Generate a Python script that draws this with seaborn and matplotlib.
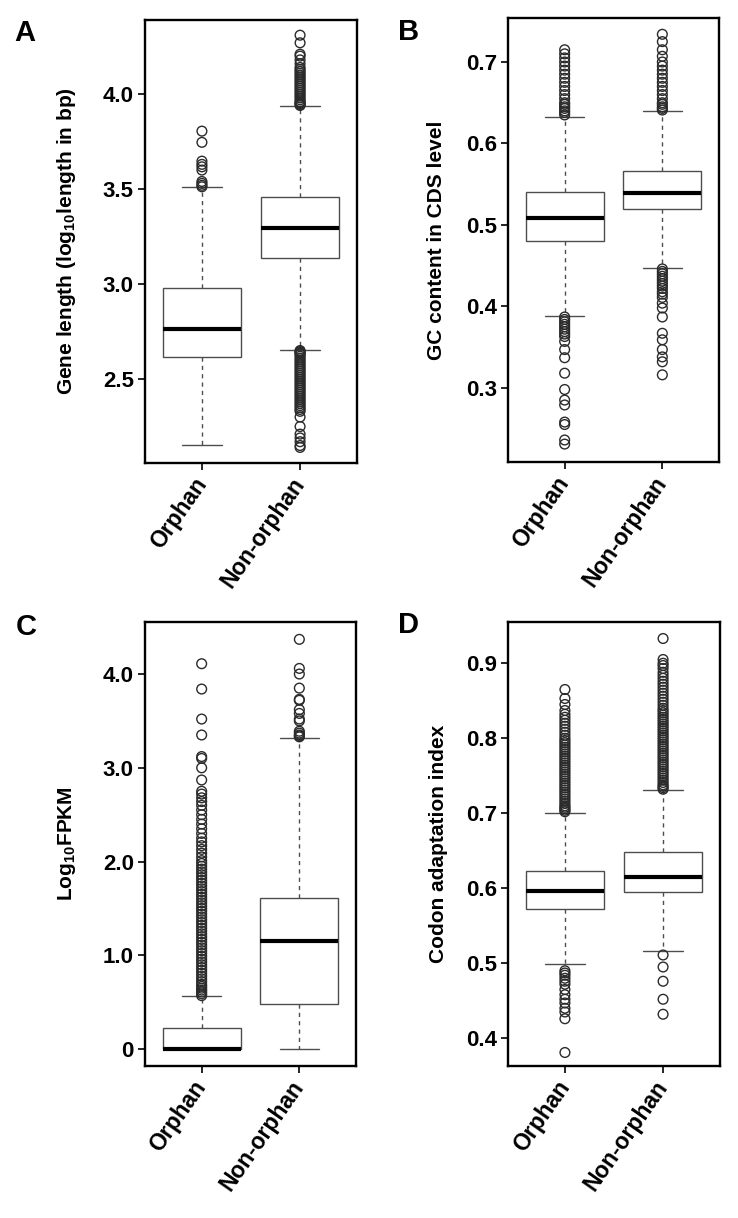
import matplotlib
matplotlib.use("Agg")
import matplotlib.pyplot as plt
import seaborn as sns
import pandas as pd

groups = ["Orphan", "Non-orphan"]

# A: gene length (log10 bp)
a_q1 = [2.616, 3.137]
a_med = [2.763, 3.296]
a_q3 = [2.980, 3.458]
a_lo = [2.153, 2.653]
a_hi = [3.510, 3.937]
a_out_orphan = [3.512, 3.52, 3.53, 3.54, 3.60, 3.617, 3.63, 3.647, 3.746, 3.805]
a_out_non = [3.94, 3.945, 3.95, 3.955, 3.96, 3.97, 3.98, 3.99, 4.00, 4.01, 4.02,
             4.03, 4.04, 4.05, 4.06, 4.07, 4.08, 4.09, 4.10, 4.11, 4.12, 4.13,
             4.14, 4.16, 4.18, 4.20, 4.21, 4.27, 4.31,
             2.65, 2.645, 2.64, 2.635, 2.63, 2.62, 2.61, 2.60, 2.59, 2.58, 2.57,
             2.56, 2.55, 2.54, 2.53, 2.52, 2.51, 2.50, 2.49, 2.48, 2.47, 2.46,
             2.45, 2.44, 2.43, 2.42, 2.41, 2.40, 2.39, 2.38, 2.37, 2.36, 2.35,
             2.34, 2.33, 2.30, 2.25, 2.21, 2.19, 2.17, 2.15, 2.14]

# B: GC content in CDS
b_q1 = [0.480, 0.520]
b_med = [0.509, 0.539]
b_q3 = [0.540, 0.566]
b_lo = [0.388, 0.447]
b_hi = [0.633, 0.640]
b_out_orphan = [0.635, 0.638, 0.640, 0.643, 0.645, 0.648, 0.650, 0.655, 0.660,
                0.665, 0.670, 0.675, 0.680, 0.685, 0.690, 0.695, 0.700, 0.705,
                0.710, 0.715,
                0.387, 0.384, 0.381, 0.378, 0.375, 0.372, 0.369, 0.366, 0.363,
                0.357, 0.347, 0.337, 0.318, 0.298, 0.285, 0.279, 0.258, 0.255,
                0.236, 0.231]
b_out_non = [0.641, 0.643, 0.645, 0.648, 0.650, 0.655, 0.660, 0.665, 0.670,
             0.675, 0.680, 0.685, 0.690, 0.695, 0.700, 0.707, 0.715, 0.725,
             0.734,
             0.446, 0.443, 0.440, 0.437, 0.434, 0.431, 0.428, 0.425, 0.422,
             0.418, 0.415, 0.411, 0.404, 0.398, 0.387, 0.367, 0.359, 0.347,
             0.338, 0.332, 0.316]

# C: log10 FPKM
c_q1 = [0.0, 0.48]
c_med = [0.0, 1.15]
c_q3 = [0.224, 1.61]
c_lo = [0.0, 0.0]
c_hi = [0.565, 3.32]
c_out_orphan = [0.57, 0.59, 0.61, 0.63, 0.65, 0.67, 0.69, 0.72, 0.75, 0.78,
                0.81, 0.84, 0.87, 0.90, 0.93, 0.96, 0.99, 1.02, 1.05, 1.08,
                1.11, 1.14, 1.17, 1.20, 1.23, 1.26, 1.29, 1.32, 1.35, 1.38,
                1.41, 1.44, 1.47, 1.50, 1.53, 1.56, 1.59, 1.62, 1.65, 1.68,
                1.71, 1.74, 1.77, 1.80, 1.83, 1.86, 1.89, 1.92, 1.95, 1.98,
                2.01, 2.05, 2.09, 2.13, 2.17, 2.21, 2.25, 2.30, 2.35, 2.40,
                2.45, 2.50, 2.55, 2.60, 2.64, 2.68, 2.72, 2.75, 2.87, 3.00,
                3.10, 3.12, 3.35, 3.52, 3.84, 4.11]
c_out_non = [3.33, 3.34, 3.35, 3.37, 3.39, 3.50, 3.52, 3.58, 3.62, 3.72, 3.73,
             3.85, 4.00, 4.06, 4.37]

# D: codon adaptation index
d_q1 = [0.572, 0.595]
d_med = [0.596, 0.615]
d_q3 = [0.623, 0.648]
d_lo = [0.499, 0.516]
d_hi = [0.701, 0.731]
d_out_orphan = [0.702, 0.704, 0.706, 0.708, 0.710, 0.713, 0.716, 0.719, 0.722,
                0.725, 0.728, 0.731, 0.734, 0.737, 0.740, 0.743, 0.746, 0.749,
                0.752, 0.755, 0.758, 0.761, 0.764, 0.767, 0.770, 0.773, 0.776,
                0.779, 0.782, 0.785, 0.788, 0.791, 0.794, 0.797, 0.800, 0.804,
                0.808, 0.812, 0.816, 0.820, 0.824, 0.828, 0.832, 0.837, 0.845,
                0.853, 0.865,
                0.490, 0.487, 0.484, 0.480, 0.476, 0.472, 0.465, 0.458, 0.452,
                0.447, 0.440, 0.435, 0.426, 0.381]
d_out_non = [0.732, 0.734, 0.736, 0.738, 0.741, 0.744, 0.747, 0.750, 0.753,
             0.756, 0.759, 0.762, 0.765, 0.768, 0.771, 0.774, 0.777, 0.780,
             0.783, 0.786, 0.789, 0.792, 0.795, 0.798, 0.801, 0.804, 0.807,
             0.810, 0.813, 0.816, 0.819, 0.822, 0.825, 0.828, 0.831, 0.834,
             0.837, 0.840, 0.844, 0.848, 0.852, 0.856, 0.860, 0.864, 0.868,
             0.872, 0.876, 0.880, 0.884, 0.888, 0.893, 0.897, 0.900, 0.905,
             0.933,
             0.511, 0.495, 0.476, 0.452, 0.432]

sns.set_theme(style="ticks")
plt.rcParams["font.family"] = ["Liberation Sans", "DejaVu Sans"]
plt.rcParams["font.weight"] = "bold"
plt.rcParams["axes.labelweight"] = "bold"
plt.rcParams["text.color"] = "black"
plt.rcParams["axes.labelcolor"] = "black"
plt.rcParams["mathtext.fontset"] = "custom"
plt.rcParams["mathtext.rm"] = "Liberation Sans:bold"
plt.rcParams["mathtext.it"] = "Liberation Sans:bold"
plt.rcParams["mathtext.bf"] = "Liberation Sans:bold"
plt.rcParams["mathtext.default"] = "rm"

BOXC = "#4d4d4d"
PTC = "#2b2b2b"


def draw_panel(ax, q1, med, q3, lo, hi, out_orphan, out_non,
               ylim, yticks, yticklabels, ylabel, labelpad):
    df = pd.DataFrame({
        "group": ["Orphan"] * len(out_orphan) + ["Non-orphan"] * len(out_non),
        "value": out_orphan + out_non,
    })
    sns.stripplot(data=df, x="group", y="value", order=groups, jitter=False,
                  ax=ax, color=PTC, facecolor="none",
                  edgecolor=PTC, linewidth=1.0, size=7, zorder=3)

    stats = []
    for i in range(2):
        stats.append({"q1": q1[i], "med": med[i], "q3": q3[i],
                      "whislo": lo[i], "whishi": hi[i], "fliers": []})
    ax.bxp(stats, positions=[0, 1], widths=0.8, capwidths=0.4,
           showfliers=False, patch_artist=True, manage_ticks=False,
           boxprops=dict(facecolor="white", edgecolor=BOXC, linewidth=1.0),
           medianprops=dict(color="black", linewidth=3.0, solid_capstyle="butt"),
           whiskerprops=dict(color=BOXC, linewidth=1.0, linestyle=(0, (3, 3))),
           capprops=dict(color=BOXC, linewidth=1.0))

    ax.set_xlim(-0.58, 1.58)
    ax.set_ylim(*ylim)
    ax.set_yticks(yticks)
    ax.set_yticklabels(yticklabels, fontsize=16, fontweight="bold")
    ax.set_xticks([0, 1])
    ax.set_xticklabels(groups, fontsize=16.5, fontweight="bold", rotation=55,
                       ha="right", va="center", rotation_mode="anchor")
    ax.set_xlabel("")
    ax.set_ylabel(ylabel, fontsize=15, fontweight="bold", labelpad=labelpad)
    for s in ax.spines.values():
        s.set_visible(True)
        s.set_linewidth(1.7)
        s.set_color("black")
    ax.tick_params(axis="both", direction="out", length=5, width=1.2,
                   color="black", labelcolor="black", pad=3)
    ax.tick_params(axis="x", pad=7)


fig = plt.figure(figsize=(7.38, 12.18), dpi=100)
W, H = 738.0, 1218.0
axA = fig.add_axes([145 / W, 1 - 463 / H, 212 / W, 443 / H])
axB = fig.add_axes([508 / W, 1 - 462 / H, 211 / W, 444 / H])
axC = fig.add_axes([145 / W, 1 - 1066 / H, 211 / W, 444 / H])
axD = fig.add_axes([508 / W, 1 - 1066 / H, 212 / W, 444 / H])

draw_panel(axA, a_q1, a_med, a_q3, a_lo, a_hi, a_out_orphan, a_out_non,
           (2.058, 4.39), [2.5, 3.0, 3.5, 4.0], ["2.5", "3.0", "3.5", "4.0"],
           "Gene length (log$_{10}$length in bp)", 18)
draw_panel(axB, b_q1, b_med, b_q3, b_lo, b_hi, b_out_orphan, b_out_non,
           (0.209, 0.754), [0.3, 0.4, 0.5, 0.6, 0.7],
           ["0.3", "0.4", "0.5", "0.6", "0.7"],
           "GC content in CDS level", 14)
draw_panel(axC, c_q1, c_med, c_q3, c_lo, c_hi, c_out_orphan, c_out_non,
           (-0.18, 4.555), [0, 1, 2, 3, 4], ["0", "1.0", "2.0", "3.0", "4.0"],
           "Log$_{10}$FPKM", 18)
draw_panel(axD, d_q1, d_med, d_q3, d_lo, d_hi, d_out_orphan, d_out_non,
           (0.363, 0.955), [0.4, 0.5, 0.6, 0.7, 0.8, 0.9],
           ["0.4", "0.5", "0.6", "0.7", "0.8", "0.9"],
           "Codon adaptation index", 13)

for letter, x, y in [("A", 14, 41), ("B", 398, 40), ("C", 16, 635), ("D", 398, 633)]:
    fig.text(x / W, 1 - y / H, letter, fontsize=21, fontweight="bold",
             ha="left", va="baseline", color="black")

fig.savefig("out.png", dpi=100)
